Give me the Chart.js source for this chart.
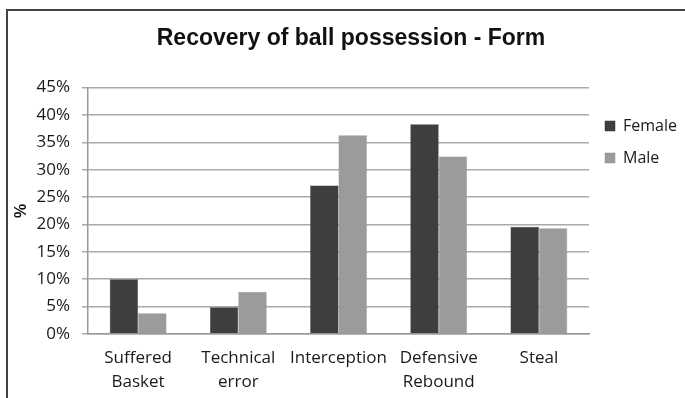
<!DOCTYPE html>
<html>
<head>
<meta charset="utf-8">
<script src="https://cdn.jsdelivr.net/npm/chart.js@4/dist/chart.umd.min.js"></script>
<style>
  html, body { margin: 0; padding: 0; background: #fff; }
  #wrap { position: relative; width: 685px; height: 398px; overflow: hidden; }
  #frame { position: absolute; left: 6px; top: 9px; width: 700px; height: 400px;
           border-left: 2px solid #444; border-top: 2px solid #444; }
  #chart { position: absolute; left: 0; top: 0; }
</style>
</head>
<body>
<div id="wrap">
  <div id="frame"></div>
  <canvas id="chart" width="685" height="398"></canvas>
</div>
<script>
// values
const categories = [['Suffered', 'Basket'], ['Technical', 'error'], 'Interception', ['Defensive', 'Rebound'], 'Steal'];
const female = [10.0, 4.9, 27.1, 38.3, 19.6];
const male = [3.8, 7.7, 36.3, 32.4, 19.3];
const yTicks = [0, 5, 10, 15, 20, 25, 30, 35, 40, 45];

const labelFont = { family: "'Open Sans', 'DejaVu Sans', sans-serif", size: 17, lineHeight: 1.4 };

// pins the legend width and the title centre to where the picture has them
const layoutFix = {
    id: 'layoutFix',
    beforeInit(chart) {
        const fit = chart.legend.fit;
        chart.legend.fit = function () {
            fit.call(this);
            this.width = 96;
        };
    },
    afterLayout(chart) {
        const t = chart.titleBlock;
        t.left = 0;
        t.right = 702;
    }
};

new Chart(document.getElementById('chart'), {
    type: 'bar',
    data: {
        labels: categories,
        datasets: [
            { label: 'Female', data: female, backgroundColor: '#3e3e3e', borderColor: '#353535', borderWidth: 0.5 },
            { label: 'Male', data: male, backgroundColor: '#9b9b9b', borderColor: '#8c8c8c', borderWidth: 0.5 }
        ]
    },
    options: {
        responsive: false,
        animation: false,
        layout: { padding: { left: 12, right: 0, top: 0, bottom: 4 } },
        datasets: { bar: { categoryPercentage: 0.567, barPercentage: 1 } },
        plugins: {
            title: {
                display: true,
                text: 'Recovery of ball possession - Form',
                color: '#111',
                font: { family: "'Liberation Sans', Arial, sans-serif", size: 23, weight: 'bold' },
                padding: { top: 25, bottom: 35 }
            },
            legend: {
                position: 'right',
                align: 'start',
                fullSize: false,
                title: { display: true, text: '', padding: { top: 0, bottom: 0 } },
                labels: {
                    color: '#1a1a1a',
                    font: { family: "'Open Sans', 'DejaVu Sans', sans-serif", size: 16 },
                    boxWidth: 10,
                    boxHeight: 10,
                    padding: 16
                }
            },
            tooltip: { enabled: false }
        },
        scales: {
            x: {
                afterFit(scale) { scale.height = 60; },
                grid: { display: false },
                border: { display: true, color: '#999', width: 1.5 },
                ticks: { color: '#1a1a1a', font: labelFont, padding: 4, maxRotation: 0, autoSkip: false }
            },
            y: {
                min: 0,
                max: 45,
                afterBuildTicks(scale) {
                    scale.ticks = yTicks.map(v => ({ value: v }));
                },
                afterFit(scale) { scale.width = 76; },
                grid: { color: '#aaa', lineWidth: 1.5, tickLength: 6 },
                border: { display: true, color: '#999', width: 1.5 },
                ticks: { color: '#1a1a1a', font: labelFont, padding: 12, callback: v => v + '%' },
                title: {
                    display: true,
                    text: '%',
                    color: '#111',
                    font: { family: "'Liberation Sans', Arial, sans-serif", size: 16, weight: 'bold' },
                    padding: { top: 0, bottom: 2 }
                }
            }
        }
    },
    plugins: [layoutFix]
});
</script>
</body>
</html>
